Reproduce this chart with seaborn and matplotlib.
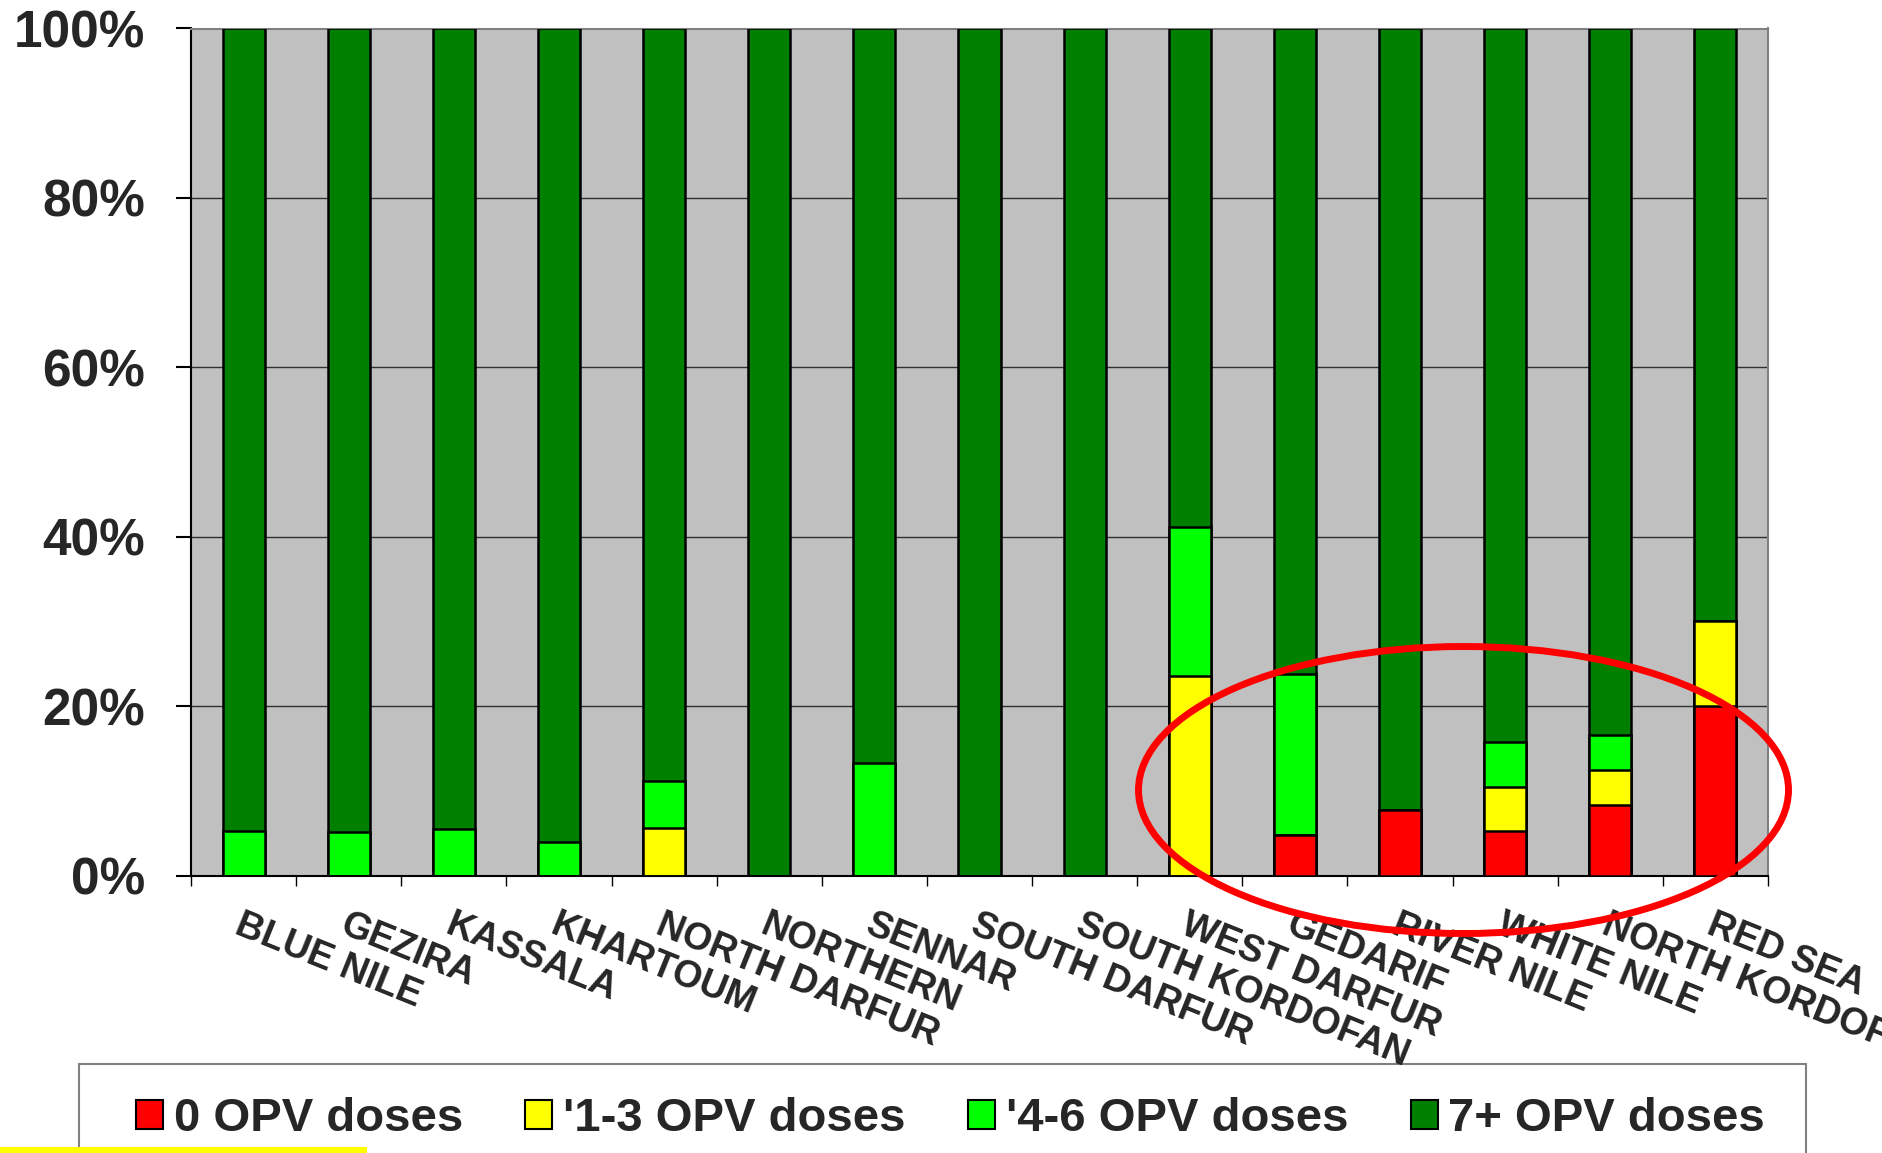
import numpy as np
import pandas as pd
import matplotlib
matplotlib.use("Agg")
import matplotlib.pyplot as plt
import seaborn as sns
from matplotlib.patches import Patch, Ellipse, Rectangle

categories = ["BLUE NILE", "GEZIRA", "KASSALA", "KHARTOUM", "NORTH DARFUR",
              "NORTHERN", "SENNAR", "SOUTH DARFUR", "SOUTH KORDOFAN",
              "WEST DARFUR", "GEDARIF", "RIVER NILE", "WHITE NILE",
              "NORTH KORDOFAN", "RED SEA"]
dose_0 = [0, 0, 0, 0, 0, 0, 0, 0, 0, 0, 4.8, 7.7, 5.2, 8.3, 20.0]
dose_1_3 = [0, 0, 0, 0, 5.6, 0, 0, 0, 0, 23.5, 0, 0, 5.3, 4.2, 10.0]
dose_4_6 = [5.2, 5.1, 5.5, 4.0, 5.5, 0, 13.3, 0, 0, 17.7, 19.0, 0, 5.3, 4.1, 0]
dose_7p = [100 - a - b - c for a, b, c in zip(dose_0, dose_1_3, dose_4_6)]

series_names = ["0 OPV doses", "'1-3 OPV doses", "'4-6 OPV doses", "7+ OPV doses"]
series_colors = ["#FF0000", "#FFFF00", "#00FF00", "#008000"]
ytick_vals = [0, 20, 40, 60, 80, 100]
ytick_labels = ["0%", "20%", "40%", "60%", "80%", "100%"]

sns.set_style("white")
plt.rcParams["font.family"] = ["Liberation Sans", "DejaVu Sans"]
plt.rcParams["font.weight"] = "bold"

W, H = 1883, 1153
fig = plt.figure(figsize=(W / 100, H / 100), dpi=100)
ax = fig.add_axes([191 / W, 1 - 875.5 / H, (1768 - 191) / W, (875.5 - 28.5) / H])
ax.set_facecolor("#C0C0C0")

df = pd.DataFrame({"region": categories, "d0": dose_0, "d13": dose_1_3,
                   "d46": dose_4_6, "d7": dose_7p})
cum = [df["d0"], df["d0"] + df["d13"], df["d0"] + df["d13"] + df["d46"],
       df["d0"] + df["d13"] + df["d46"] + df["d7"]]

# draw from the tallest cumulative layer down so lower segments overlay
for i in [3, 2, 1, 0]:
    sns.barplot(x=df["region"], y=cum[i], color=series_colors[i], width=0.4,
                saturation=1, edgecolor="black", linewidth=1.8, ax=ax,
                zorder=3)

ax.set_xlim(-0.5, len(categories) - 0.5)
ax.set_ylim(0, 100)
ax.set_xlabel("")
ax.set_ylabel("")

# gridlines
for v in ytick_vals[1:-1]:
    ax.axhline(v, color="#303030", lw=1.0, zorder=1)

ax.set_yticks(ytick_vals)
ax.set_yticklabels(ytick_labels, fontsize=37, fontweight="bold")
ax.tick_params(axis="y", length=11, width=1.5, color="black", pad=22, left=True)

ax.set_xticks(range(len(categories)))
ax.set_xticklabels(categories, fontsize=27, fontweight="bold", rotation=-22,
                   ha="left", va="top", rotation_mode="anchor")
ax.tick_params(axis="x", which="major", length=0, pad=23)
ax.set_xticks(np.arange(-0.5, len(categories), 1), minor=True)
ax.tick_params(axis="x", which="minor", length=7, width=1.0, color="black",
               bottom=True)

for s in ["left", "bottom"]:
    ax.spines[s].set_color("black")
    ax.spines[s].set_linewidth(1.5)
for s in ["top", "right"]:
    ax.spines[s].set_color("#808080")
    ax.spines[s].set_linewidth(1.5)
    ax.spines[s].set_visible(True)

# legend frame (extends past the bottom edge)
fig.add_artist(Rectangle((79 / W, -0.05), (1806 - 79) / W, (1 - 1064 / H) + 0.05,
                         transform=fig.transFigure, facecolor="white",
                         edgecolor="#808080", lw=1.5, zorder=0))
handles = [Patch(facecolor=c, edgecolor="black", lw=1.5) for c in series_colors]
fig.legend(handles, series_names, loc="center left",
           bbox_to_anchor=(136 / W, 1 - 1119 / H), ncol=4, frameon=False,
           prop={"weight": "bold", "size": 34}, handlelength=0.57,
           handleheight=0.57, handletextpad=0.23, columnspacing=1.32,
           borderpad=0, borderaxespad=0)

# yellow strip bottom left
fig.add_artist(Rectangle((0, 0), 367 / W, 6 / H, transform=fig.transFigure,
                         facecolor="#FFFF00", edgecolor="none", zorder=5))

# red highlight ellipse
fig.add_artist(Ellipse((1463.5 / W, 1 - 790 / H), 650 / W, 287 / H,
                       transform=fig.transFigure, fill=False,
                       edgecolor="#FF0000", lw=5, zorder=10))

fig.savefig("out.png", dpi=100)
